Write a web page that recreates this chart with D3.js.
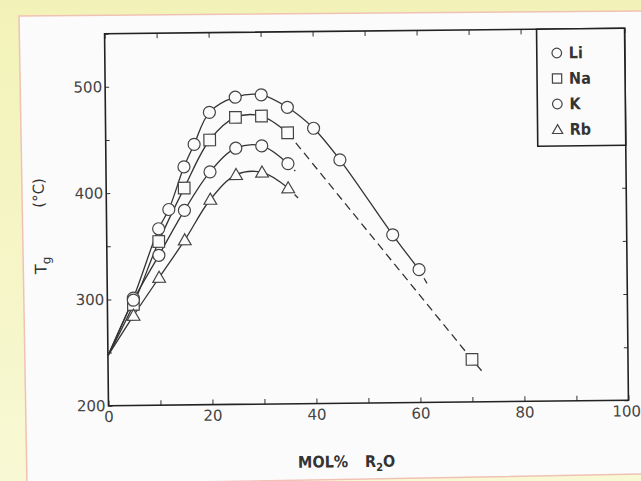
<!DOCTYPE html>
<html><head><meta charset="utf-8">
<script src="https://cdn.jsdelivr.net/npm/d3@7"></script>
<style>html,body{margin:0;padding:0;background:#f4f4c0;} svg{display:block}</style>
</head><body>
<svg id="c" width="641" height="481"></svg>
<script>
// ---- data ----
const categories = ["Li", "Na", "K", "Rb"];
const origin = [0, 247];
const liX = [5, 10, 12, 15, 17, 20, 25, 30, 35, 40, 45, 55, 60];
const liY = [301, 366, 384, 424, 445, 475, 489, 491, 479, 459, 429, 358, 325];
const liExtX = [61.5];
const liExtY = [312];
const naX = [5, 10, 15, 20, 25, 30, 35];
const naY = [295, 354, 404, 449, 470, 471, 455];
const naDashX = [70];
const naDashY = [240];
const naExtX = [72.2];
const naExtY = [227];
const kX = [5, 10, 15, 20, 25, 30, 35];
const kY = [299, 341, 383, 419, 441, 443, 426];
const kExtX = [36.4];
const kExtY = [419];
const rbX = [5, 10, 15, 20, 25, 30, 35];
const rbY = [284.5, 320, 355, 393, 416, 418, 403];
const rbExtX = [37.3];
const rbExtY = [391.5];
const xTicks = [0, 20, 40, 60, 80, 100];
const yTicks = [200, 300, 400, 500];
const xDomain = [0, 100];
const yDomain = [200, 550];

const zip = (a, b) => a.map((v, i) => [v, b[i]]);
const series = [
  {name: categories[0], shape: "circle", pts: zip(liX, liY), dash: [], ext: zip(liExtX, liExtY), dashPat: "6,4"},
  {name: categories[1], shape: "square", pts: zip(naX, naY), dash: zip(naDashX, naDashY), ext: zip(naExtX, naExtY), dashPat: "8,5"},
  {name: categories[2], shape: "circle", pts: zip(kX, kY), dash: [], ext: zip(kExtX, kExtY), dashPat: "5,4"},
  {name: categories[3], shape: "triangle", pts: zip(rbX, rbY), dash: [], ext: zip(rbExtX, rbExtY), dashPat: "5,4"}
];

// ---- layout ----
const L = 106.5, R = 626.5, T = 31, B = 403;
const svg = d3.select("#c");
const ink = "#333";

// background + paper
const defs = svg.append("defs");
const grad = defs.append("linearGradient").attr("id", "bg").attr("x1", 0).attr("y1", 0).attr("x2", 0).attr("y2", 1);
grad.append("stop").attr("offset", "0%").attr("stop-color", "#f2f2b8");
grad.append("stop").attr("offset", "100%").attr("stop-color", "#f8f8d4");
svg.append("rect").attr("width", 641).attr("height", 481).attr("fill", "url(#bg)");
svg.append("polygon")
  .attr("points", "19,16 645,11 645,474 27,485")
  .attr("fill", "#fcfbfc").attr("stroke", "#f0c2b4").attr("stroke-width", 1.5);

const g = svg.append("g").attr("transform", "rotate(-0.6,366.5,217)");

const x = d3.scaleLinear().domain(xDomain).range([L, R]);
const y = d3.scaleLinear().domain(yDomain).range([B, T]);

const tickFont = s => s.attr("font-family", "DejaVu Sans, sans-serif").attr("font-size", 15).attr("fill", "#444");

// axes
const xMinor = d3.range(0, 101, 10);
const yMinor = d3.range(200, 551, 50);
const ax = g.append("g").attr("transform", `translate(0,${B})`)
  .call(d3.axisBottom(x).tickValues(xMinor).tickSizeInner(-5).tickSizeOuter(0).tickPadding(5.5)
    .tickFormat(d => xTicks.includes(d) ? d : ""));
const axT = g.append("g").attr("transform", `translate(0,${T})`)
  .call(d3.axisTop(x).tickValues(xMinor).tickSizeInner(-5).tickSizeOuter(0).tickFormat(""));
const ay = g.append("g").attr("transform", `translate(${L},0)`)
  .call(d3.axisLeft(y).tickValues(yMinor).tickSizeInner(-4).tickSizeOuter(0).tickPadding(3)
    .tickFormat(d => yTicks.includes(d) ? d : ""));
const ayR = g.append("g").attr("transform", `translate(${R},0)`)
  .call(d3.axisRight(y).tickValues(yMinor).tickSizeInner(-4).tickSizeOuter(0).tickFormat(""));
[ax, axT, ay, ayR].forEach(a => {
  a.select(".domain").remove();
  a.selectAll(".tick line").attr("stroke", ink).attr("stroke-width", 1);
  a.selectAll("text").call(tickFont);
});
ax.selectAll(".tick text").filter(d => d === xDomain[1]).attr("text-anchor", "end").attr("dx", 12);

// frame
g.append("rect").attr("x", L).attr("y", T).attr("width", R - L).attr("height", B - T)
  .attr("fill", "none").attr("stroke", "#222").attr("stroke-width", 1.6);

// lines
const curve = d3.line().x(d => x(d[0])).y(d => y(d[1])).curve(d3.curveCatmullRom.alpha(0.5));
const straight = d3.line().x(d => x(d[0])).y(d => y(d[1]));
series.forEach(s => {
  g.append("path").attr("d", curve([origin, ...s.pts]))
    .attr("fill", "none").attr("stroke", ink).attr("stroke-width", 1.3);
  const dashed = [s.pts[s.pts.length - 1], ...s.dash, ...s.ext];
  g.append("path").attr("d", straight(dashed))
    .attr("fill", "none").attr("stroke", ink).attr("stroke-width", 1.3)
    .attr("stroke-dasharray", s.dashPat);
});

// markers
function marker(sel, shape, cx, cy, big) {
  const k = big ? 1 : 0.8;
  let el;
  if (shape === "circle") {
    el = sel.append("circle").attr("cx", cx).attr("cy", cy).attr("r", 6 * k);
  } else if (shape === "square") {
    const h = 5.8 * k;
    el = sel.append("rect").attr("x", cx - h).attr("y", cy - h).attr("width", 2 * h).attr("height", 2 * h);
  } else {
    el = sel.append("path").attr("transform", `translate(${cx},${cy + 1})`)
      .attr("d", d3.symbol(d3.symbolTriangle, 70 * k * k)());
  }
  el.attr("fill", "#fcfbfc").attr("stroke", "#444").attr("stroke-width", 1.2);
}
series.forEach(s => {
  [...s.pts, ...s.dash].forEach(p => marker(g, s.shape, x(p[0]), y(p[1]), true));
});

// legend
const lg = g.append("g");
lg.append("rect").attr("x", 538.5).attr("y", T).attr("width", R - 538.5).attr("height", 117)
  .attr("fill", "#fcfbfc").attr("stroke", "#222").attr("stroke-width", 1.6);
series.forEach((s, i) => {
  const cy = 55 + i * 25.5;
  marker(lg, s.shape, 558.5, cy, false);
  lg.append("text").attr("x", 570.5).attr("y", cy + 5.5).text(s.name)
    .attr("font-family", "DejaVu Sans Condensed, Liberation Sans Narrow, DejaVu Sans, sans-serif")
    .attr("font-weight", "bold").attr("font-size", 16).attr("fill", "#333");
});

// axis titles
const titleFont = s => s.attr("font-family", "DejaVu Sans Condensed, Liberation Sans Narrow, DejaVu Sans, sans-serif")
  .attr("font-weight", "bold").attr("font-size", 16).attr("fill", "#333");
const xl = g.append("text").attr("x", 295.5).attr("y", 467).call(titleFont);
xl.append("tspan").text("MOL%");
xl.append("tspan").attr("x", 362.5).text("R");
xl.append("tspan").attr("font-size", 11).attr("dy", 4).text("2");
xl.append("tspan").attr("dy", -4).text("O");

const yl1 = g.append("text").attr("transform", "translate(44,189.5) rotate(-90)")
  .attr("text-anchor", "middle").text("(°C)")
  .attr("font-family", "DejaVu Sans, sans-serif").attr("font-size", 15).attr("fill", "#333");
const yl2 = g.append("text").attr("transform", "translate(46,262) rotate(-90)")
  .attr("text-anchor", "middle")
  .attr("font-family", "DejaVu Sans, sans-serif").attr("font-size", 16).attr("fill", "#333");
yl2.append("tspan").text("T");
yl2.append("tspan").attr("font-size", 12).attr("dy", 4).text("g");
</script>
</body></html>
